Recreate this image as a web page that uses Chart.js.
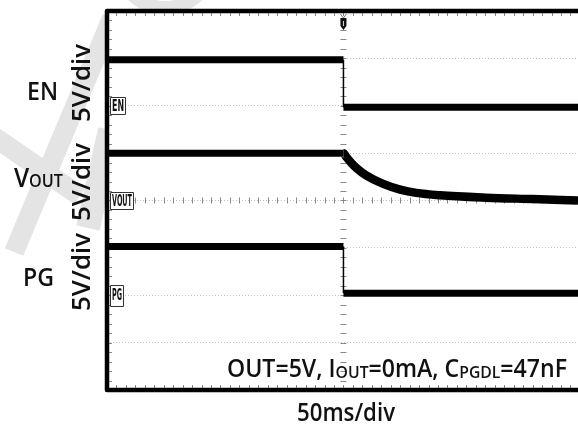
<!DOCTYPE html>
<html>
<head>
<meta charset="utf-8">
<script src="https://cdn.jsdelivr.net/npm/chart.js@4.4.1/dist/chart.umd.min.js"></script>
<style>
  html, body { margin: 0; padding: 0; background: #fff; }
  #wrap { width: 578px; height: 426px; }
</style>
</head>
<body>
<div id="wrap"><canvas id="chart" width="578" height="426"></canvas></div>
<script>
// time in ms (50ms/div), levels in screen divisions (5V/div)
const enTime = [0, 250, 250, 498];
const enLevel = [6.97, 6.97, 5.97, 5.97];
const voutTime = [0, 250, 253, 258, 264, 274, 292, 310, 327, 352, 401, 450, 498];
const voutLevel = [5.0, 5.0, 4.92, 4.8, 4.68, 4.53, 4.35, 4.23, 4.16, 4.11, 4.06, 4.03, 4.0];
const pgTime = [0, 250, 250, 498];
const pgLevel = [3.03, 3.03, 2.04, 2.04];

const channelNames = ["EN", "VOUT", "PG"];
const channelGround = [6, 4, 2];
const triggerTime = 250;

const FONT = "600 {s}px 'Open Sans'";

function font(size) {
    return FONT.replace("{s}", size);
}

function toPoints(xs, ys) {
    return xs.map((x, i) => ({ x: x, y: ys[i] }));
}

// draws text made of pieces [text, size, dy], squeezed to a given width
function richText(ctx, parts, x, y, align, width) {
    let w = 0;
    parts.forEach(p => {
        ctx.font = font(p[1]);
        w += ctx.measureText(p[0]).width;
    });
    ctx.save();
    ctx.translate(x, y);
    ctx.scale(width / w, 1);
    let cx = 0;
    if (align === "right") cx = -w;
    if (align === "center") cx = -w / 2;
    ctx.textAlign = "left";
    ctx.textBaseline = "alphabetic";
    parts.forEach(p => {
        ctx.font = font(p[1]);
        ctx.fillText(p[0], cx, p[2]);
        cx += ctx.measureText(p[0]).width;
    });
    ctx.restore();
}

const backdrop = {
    id: "backdrop",
    beforeDraw(chart) {
        const ctx = chart.ctx;
        const a = chart.chartArea;
        ctx.save();
        ctx.fillStyle = "#fff";
        ctx.fillRect(0, 0, chart.width, chart.height);
        // faint watermark rays
        ctx.strokeStyle = "#e4e4e4";
        ctx.lineCap = "butt";
        ctx.lineWidth = 20;
        ctx.beginPath();
        ctx.moveTo(112, 18); ctx.lineTo(14, 252);
        ctx.moveTo(-10, 134); ctx.lineTo(80, 196);
        ctx.stroke();
        ctx.lineWidth = 24;
        ctx.beginPath();
        ctx.moveTo(110, 130); ctx.lineTo(88, 228);
        ctx.stroke();
        ctx.lineWidth = 14;
        ctx.beginPath();
        ctx.arc(165, -38, 46, 0.15 * Math.PI, 0.85 * Math.PI);
        ctx.stroke();
        ctx.fillStyle = "#fff";
        ctx.fillRect(a.left, a.top, a.right - a.left, a.bottom - a.top);
        ctx.restore();
    }
};

const scopeMarks = {
    id: "scopeMarks",
    beforeDatasetsDraw(chart) {
        const ctx = chart.ctx;
        const a = chart.chartArea;
        const xs = chart.scales.x, ys = chart.scales.y;
        const xc = xs.getPixelForValue(triggerTime);
        const yc = ys.getPixelForValue(4);
        ctx.save();
        ctx.strokeStyle = "#888";
        ctx.lineWidth = 1;
        ctx.beginPath();
        for (let t = 0; t <= 500; t += 10) {
            const px = Math.round(xs.getPixelForValue(t)) + 0.5;
            if (px > a.right) break;
            ctx.moveTo(px, a.top); ctx.lineTo(px, a.top + 5);
            ctx.moveTo(px, a.bottom - 5); ctx.lineTo(px, a.bottom);
            ctx.moveTo(px, yc - 3); ctx.lineTo(px, yc + 3);
        }
        for (let v = 0; v <= 8.001; v += 0.2) {
            const py = Math.round(ys.getPixelForValue(v)) + 0.5;
            ctx.moveTo(a.left, py); ctx.lineTo(a.left + 5, py);
            ctx.moveTo(xc - 3, py); ctx.lineTo(xc + 3, py);
        }
        ctx.stroke();
        ctx.restore();
    },
    afterDatasetsDraw(chart) {
        const ctx = chart.ctx;
        const a = chart.chartArea;
        const xs = chart.scales.x, ys = chart.scales.y;
        ctx.save();
        // frame
        ctx.strokeStyle = "#000";
        ctx.lineWidth = 4.5;
        ctx.lineJoin = "round";
        ctx.beginPath();
        ctx.moveTo(a.right + 10, a.top);
        ctx.lineTo(a.left, a.top);
        ctx.lineTo(a.left, a.bottom);
        ctx.lineTo(a.right + 10, a.bottom);
        ctx.stroke();

        // channel ground markers
        const boxW = [15, 23, 13], boxH = [17, 17, 21];
        channelNames.forEach((name, i) => {
            const py = ys.getPixelForValue(channelGround[i]);
            const bx = a.left + 3.5, by = Math.round(py - boxH[i] / 2) + 0.5;
            ctx.fillStyle = "#fff";
            ctx.fillRect(bx, by, boxW[i], boxH[i]);
            ctx.strokeStyle = "#333";
            ctx.lineWidth = 1;
            ctx.strokeRect(bx, by, boxW[i], boxH[i]);
            ctx.fillStyle = "#111";
            ctx.save();
            ctx.translate(bx + boxW[i] / 2, py + 5);
            ctx.font = "bold 15px 'DejaVu Sans'";
            const tw = ctx.measureText(name).width;
            ctx.scale((boxW[i] - 3) / tw, 1);
            ctx.textAlign = "center";
            ctx.fillText(name, 0, 0);
            ctx.restore();
        });

        // trigger marker
        const tx = xs.getPixelForValue(triggerTime);
        ctx.strokeStyle = "#777";
        ctx.lineWidth = 1;
        ctx.beginPath();
        ctx.moveTo(tx - 3, a.top + 3); ctx.lineTo(tx, a.top + 7); ctx.lineTo(tx + 3, a.top + 3);
        ctx.stroke();
        ctx.fillStyle = "#111";
        ctx.beginPath();
        ctx.moveTo(tx - 3, a.top + 7);
        ctx.lineTo(tx + 3, a.top + 7);
        ctx.lineTo(tx + 3, a.top + 15);
        ctx.lineTo(tx, a.top + 19);
        ctx.lineTo(tx - 3, a.top + 15);
        ctx.closePath();
        ctx.fill();
        ctx.fillStyle = "#ddd";
        ctx.fillRect(tx - 0.5, a.top + 10, 1, 5);
        ctx.restore();
    },
    afterDraw(chart) {
        const ctx = chart.ctx;
        ctx.save();
        ctx.fillStyle = "#111";
        // channel names
        richText(ctx, [["EN", 25, 0]], 27, 100, "left", 31);
        richText(ctx, [["V", 27, 0], ["OUT", 18, 0]], 14, 187, "left", 49);
        richText(ctx, [["PG", 25, 0]], 23, 286, "left", 31);
        // vertical scale labels
        [83, 182, 272].forEach(cy => {
            ctx.save();
            ctx.translate(90, cy);
            ctx.rotate(-Math.PI / 2);
            richText(ctx, [["5V/div", 25, 0]], 0, 0, "center", 78);
            ctx.restore();
        });
        // time scale
        richText(ctx, [["50ms/div", 25, 0]], 346, 421, "center", 98);
        // test conditions
        const parts = [["OUT=5V, I", 25, 0], ["OUT", 17, 1], ["=0mA, C", 25, 0], ["PGDL", 17, 1], ["=47nF", 25, 0]];
        richText(ctx, parts, 567, 377, "right", 340);
        ctx.restore();
    }
};

function traceSet(label, pts, smooth) {
    return {
        label: label,
        data: pts,
        borderColor: "#000",
        borderWidth: 7,
        borderCapStyle: "butt",
        pointRadius: 0,
        fill: false,
        tension: 0,
        cubicInterpolationMode: smooth ? "monotone" : "default",
        segment: {
            borderWidth: c => c.p0.parsed.x === c.p1.parsed.x ? 1.5 : (smooth && c.p0.parsed.x >= triggerTime ? 8.5 : 7)
        }
    };
}

new Chart(document.getElementById("chart"), {
    type: "line",
    data: {
        datasets: [
            traceSet("EN", toPoints(enTime, enLevel), false),
            traceSet("VOUT", toPoints(voutTime, voutLevel), true),
            traceSet("PG", toPoints(pgTime, pgLevel), false)
        ]
    },
    options: {
        responsive: false,
        animation: false,
        devicePixelRatio: 1,
        layout: { padding: { left: 107, top: 11, right: 0, bottom: 36 } },
        plugins: { legend: { display: false }, tooltip: { enabled: false } },
        scales: {
            x: {
                type: "linear",
                min: 0,
                max: 498,
                ticks: { display: false, stepSize: 50 },
                afterBuildTicks: s => { s.ticks = s.ticks.filter(t => t.value % 50 === 0); },
                afterFit: s => { s.height = 0; },
                grid: { color: "#c2c2c2", lineWidth: 1, drawTicks: false },
                border: { display: false, dash: [1, 2] }
            },
            y: {
                min: 0,
                max: 8,
                ticks: { display: false, stepSize: 1 },
                afterFit: s => { s.width = 0; },
                grid: { color: "#c2c2c2", lineWidth: 1, drawTicks: false },
                border: { display: false, dash: [1, 2] }
            }
        }
    },
    plugins: [backdrop, scopeMarks]
});
</script>
</body>
</html>
